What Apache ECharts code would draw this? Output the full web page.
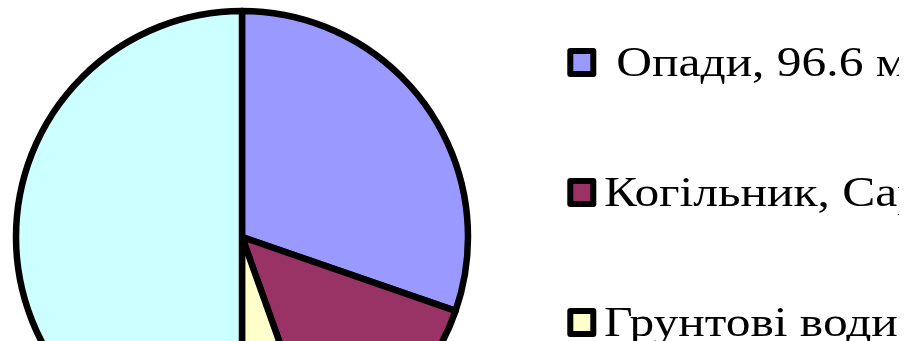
<!DOCTYPE html>
<html>
<head>
<meta charset="utf-8">
<script src="https://cdn.jsdelivr.net/npm/echarts@6/dist/echarts.min.js"></script>
<style>
  html, body { margin: 0; padding: 0; background: #fff; }
  #chart { width: 915px; height: 341px; }
</style>
</head>
<body>
<div id="chart"></div>
<script>
// Water balance components, млн м³
const names = [' Опади', 'Когільник, Сарата', 'Грунтові води', 'Випаровування'];
const values = [96.6, 45.4, 17.4, 159.4];
const colors = ['#9999FF', '#993366', '#FFFFCC', '#CCFFFF'];

const labels = names.map((n, i) => n + ', ' + values[i] + ' млн м³');

// Legend block on the right: framed swatch + wide serif caption per entry,
// captions cut off at the right edge of the legend box
const LEG_X = 570.3, LEG_Y = 51, LEG_STEP = 130, SW = 23;
const TEXT_X = 604, TEXT_RIGHT = 899, STRETCH = 1.15;
const legendItems = [];
labels.forEach((l, i) => {
  const cy = LEG_Y + SW / 2 + i * LEG_STEP;
  legendItems.push({
    type: 'rect',
    shape: { x: LEG_X, y: cy - SW / 2, width: SW, height: SW },
    style: { fill: colors[i], stroke: '#000', lineWidth: 6, lineJoin: 'round' },
    silent: true
  });
  legendItems.push({
    type: 'group',
    x: TEXT_X,
    y: cy + 2.5,
    scaleX: STRETCH,
    scaleY: 1,
    silent: true,
    children: [{
      type: 'text',
      style: {
        text: l,
        fontFamily: 'Liberation Serif',
        fontSize: 43,
        fill: '#000',
        align: 'left',
        verticalAlign: 'middle'
      },
      silent: true
    }]
  });
});
// mask beyond the legend box's right edge
legendItems.push({
  type: 'rect',
  z: 100,
  shape: { x: TEXT_RIGHT, y: 0, width: 40, height: 341 },
  style: { fill: '#ffffff' },
  silent: true
});

const chart = echarts.init(document.getElementById('chart'), null, { renderer: 'canvas' });

chart.setOption({
  animation: false,
  backgroundColor: '#ffffff',
  graphic: { elements: legendItems },
  series: [{
    type: 'pie',
    center: [242, 237],
    radius: 226,
    startAngle: 90,
    clockwise: true,
    label: { show: false },
    labelLine: { show: false },
    emphasis: { disabled: true },
    itemStyle: { borderColor: '#000', borderWidth: 6.5 },
    data: labels.map((l, i) => ({
      name: l,
      value: values[i],
      itemStyle: { color: colors[i] }
    }))
  }]
});
</script>
</body>
</html>
